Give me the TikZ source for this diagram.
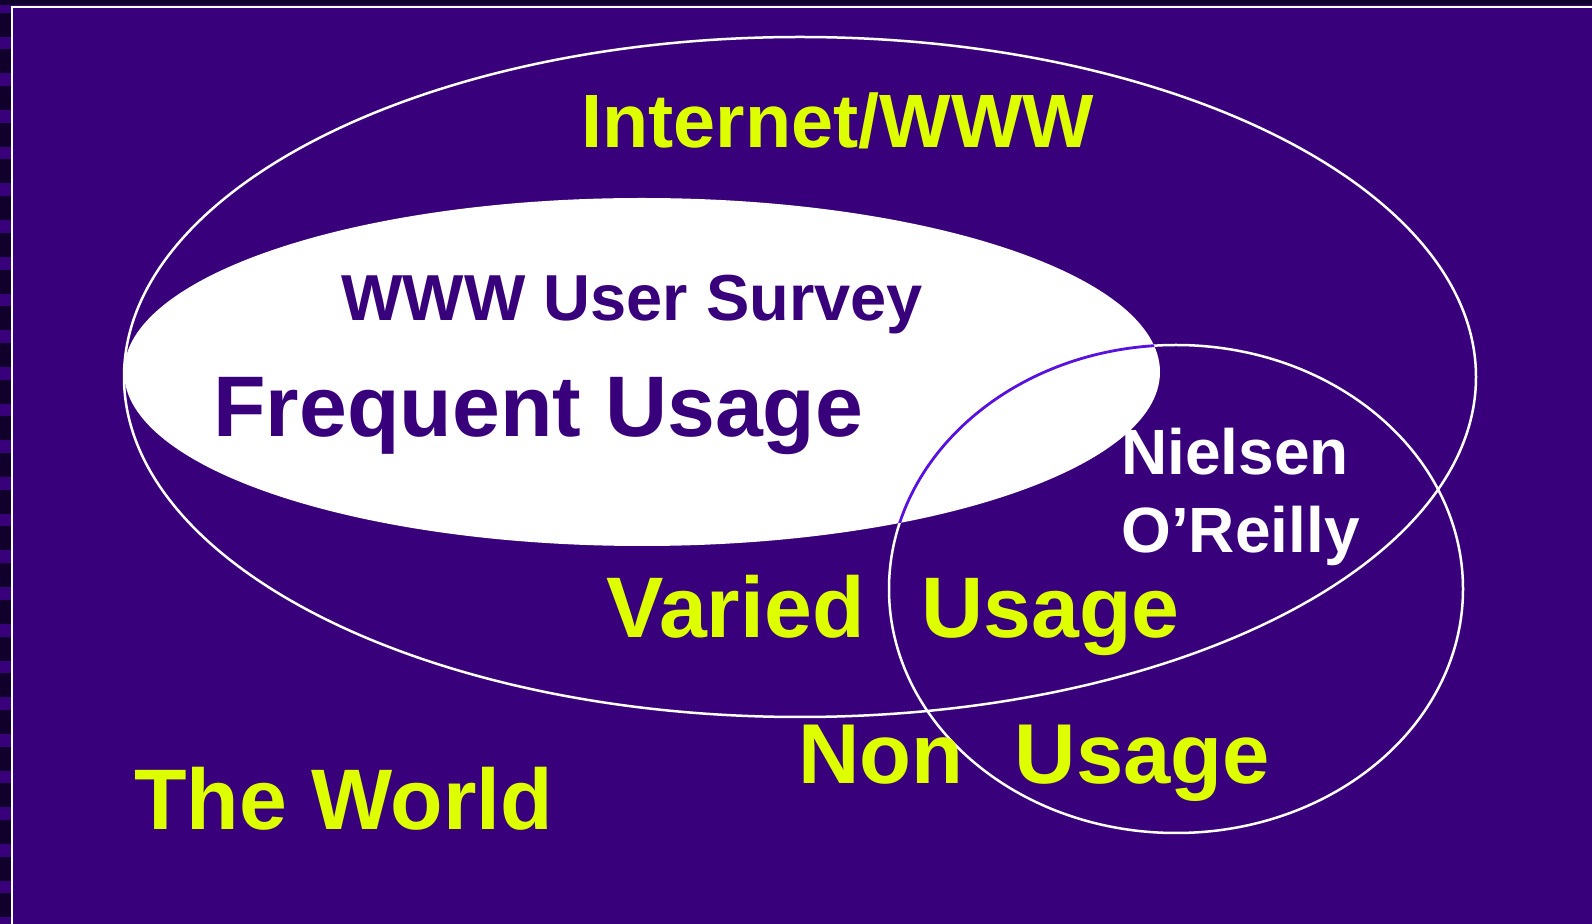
\documentclass[tikz,border=0pt]{standalone}
\usepackage{fontspec}
\setmainfont{Liberation Sans}
\definecolor{bgpurple}{HTML}{38007A}
\definecolor{darkstrip}{HTML}{12002C}
\definecolor{arcpurple}{HTML}{5812E0}
\definecolor{lime}{HTML}{DDFF00}
\tikzset{
  label/.style={anchor=base west, inner sep=0pt, font=\bfseries\fontsize{#1}{#1}\selectfont},
  yellowlabel/.style={label=#1, text=lime},
}
\begin{document}
\begin{tikzpicture}[x=0.5pt, y=-0.5pt]
\useasboundingbox (0,0) rectangle (1592,924);
% Background and frame
\fill[bgpurple] (0,0) rectangle (1592,924);
\fill[darkstrip] (0,0) rectangle (1592,5);
\foreach \k in {0,...,25}
  \fill[darkstrip] (0,{\k*36.7-24}) rectangle (11,{\k*36.7});
\draw[white, line width=1pt] (12,1000) -- (12,7) -- (1600,7);

% Internet/WWW
\draw[white, line width=1.25pt] (800,377) ellipse [x radius=676, y radius=340];
% WWW User Survey
\fill[white] (642,372) ellipse [x radius=518, y radius=174];
% Nielsen / O'Reilly
\draw[white, line width=1.25pt] (1176,589) ellipse [x radius=287, y radius=244];
\begin{scope}
  \clip (642,372) ellipse [x radius=518, y radius=174];
  \draw[arcpurple, line width=1.4pt] (1176,589) ellipse [x radius=287, y radius=244];
\end{scope}

% Labels
\node[yellowlabel=37.8] (inet) at (581,148) {Internet/WWW};
\node[label=32.5, text=bgpurple] (survey) at (341,321) {WWW User Survey};
\node[label=43, text=bgpurple] (frequent) at (213,437) {Frequent Usage};
\node[label=32, text=white] (nielsen) at (1121,475) {Nielsen};
\node[label=32, text=white] (oreilly) at (1121,553) {O’Reilly};
\node[yellowlabel=43] (varied) at (606,638) {Varied~~\hspace{4.5pt}Usage};
\node[yellowlabel=42.5] (non) at (798,784) {Non~~\hspace{2pt}Usage};
\node[yellowlabel=43] (world) at (134,830) {The World};
\end{tikzpicture}
\end{document}
